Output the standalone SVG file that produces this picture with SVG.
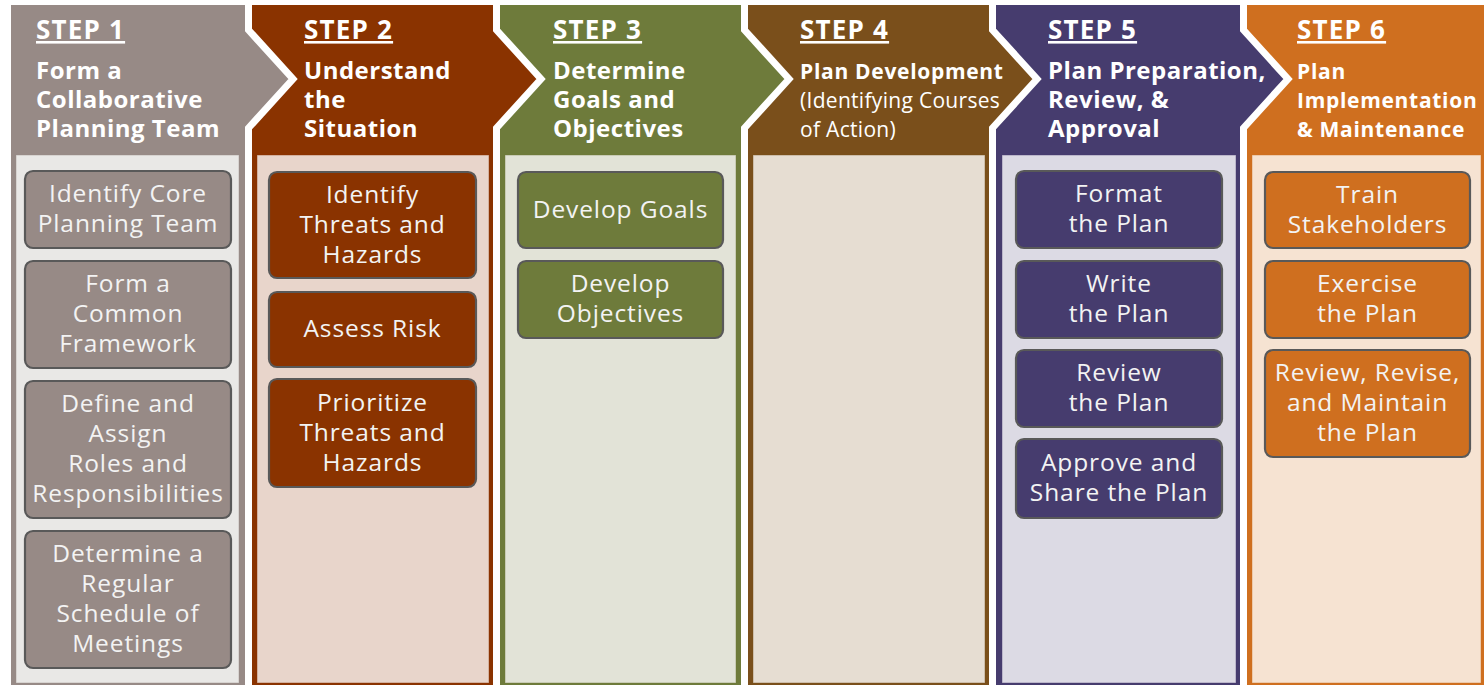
<svg xmlns="http://www.w3.org/2000/svg" width="1484" height="685" viewBox="0 0 1484 685">
<style>
.col{stroke:#ffffff;stroke-width:7;stroke-linejoin:miter}
.panel{stroke-width:1;stroke-opacity:0.45}
.box{stroke:#595959;stroke-width:2.2}
.bt{font-family:"Open Sans","Liberation Sans",sans-serif;font-size:24.5px;fill:#f3f3f3;text-anchor:middle;letter-spacing:0.9px}
.step{font-family:"Open Sans","Liberation Sans",sans-serif;font-size:26px;font-weight:bold;fill:#ffffff;text-decoration:underline;letter-spacing:1.2px}
.ht{font-family:"Open Sans","Liberation Sans",sans-serif;font-size:24px;font-weight:bold;fill:#ffffff;letter-spacing:0.5px}
.hs{font-family:"Open Sans","Liberation Sans",sans-serif;font-size:21px;font-weight:bold;fill:#ffffff;letter-spacing:0.7px}
.hn{font-family:"Open Sans","Liberation Sans",sans-serif;font-size:21px;fill:#ffffff;letter-spacing:0.3px}
</style>
<rect width="1484" height="685" fill="#ffffff"/>

<g id="step6">
<polygon class="col" fill="#cf6f1f" points="1243.5,1.5 1495,1.5 1495,695 1243.5,695"/>
<rect class="panel" x="1252" y="155" width="229" height="528" fill="#f6e3d2" stroke="#cf6f1f"/>
<text class="step" x="1297" y="39">STEP 6</text>
<text class="hs" x="1297" y="79">Plan</text>
<text class="hs" x="1297" y="108">Implementation</text>
<text class="hs" x="1297" y="137">&amp; Maintenance</text>
<g id="s6b1"><rect class="box" x="1265" y="172" width="205" height="76" rx="8" fill="#cf6f1f"/><text class="bt" x="1367.5" y="203">Train</text><text class="bt" x="1367.5" y="233">Stakeholders</text></g>
<g id="s6b2"><rect class="box" x="1265" y="261" width="205" height="77" rx="8" fill="#cf6f1f"/><text class="bt" x="1367.5" y="292">Exercise</text><text class="bt" x="1367.5" y="322">the Plan</text></g>
<g id="s6b3"><rect class="box" x="1265" y="350" width="205" height="107" rx="8" fill="#cf6f1f"/><text class="bt" x="1367.5" y="381">Review, Revise,</text><text class="bt" x="1367.5" y="411">and Maintain</text><text class="bt" x="1367.5" y="441">the Plan</text></g>
</g>

<g id="step5">
<polygon class="col" fill="#463c6e" points="992.5,1.5 1243.5,1.5 1243.5,30 1288,79 1243.5,128 1243.5,695 992.5,695"/>
<rect class="panel" x="1002" y="155" width="234" height="528" fill="#dcdae4" stroke="#463c6e"/>
<text class="step" x="1048" y="39">STEP 5</text>
<text class="ht" x="1048" y="79">Plan Preparation,</text>
<text class="ht" x="1048" y="108">Review, &amp;</text>
<text class="ht" x="1048" y="137">Approval</text>
<g id="s5b1"><rect class="box" x="1016" y="171" width="206" height="77" rx="8" fill="#463c6e"/><text class="bt" x="1119" y="202">Format</text><text class="bt" x="1119" y="232">the Plan</text></g>
<g id="s5b2"><rect class="box" x="1016" y="261" width="206" height="77" rx="8" fill="#463c6e"/><text class="bt" x="1119" y="292">Write</text><text class="bt" x="1119" y="322">the Plan</text></g>
<g id="s5b3"><rect class="box" x="1016" y="350" width="206" height="77" rx="8" fill="#463c6e"/><text class="bt" x="1119" y="381">Review</text><text class="bt" x="1119" y="411">the Plan</text></g>
<g id="s5b4"><rect class="box" x="1016" y="439" width="206" height="79" rx="8" fill="#463c6e"/><text class="bt" x="1119" y="471">Approve and</text><text class="bt" x="1119" y="501">Share the Plan</text></g>
</g>

<g id="step4">
<polygon class="col" fill="#7a4f1b" points="744.5,1.5 992.5,1.5 992.5,30 1037,79 992.5,128 992.5,695 744.5,695"/>
<rect class="panel" x="753" y="155" width="232" height="528" fill="#e6ddd2" stroke="#7a4f1b"/>
<text class="step" x="800" y="39">STEP 4</text>
<text class="hs" x="800" y="79">Plan Development</text>
<text class="hn" x="800" y="108">(Identifying Courses</text>
<text class="hn" x="800" y="137">of Action)</text>
</g>

<g id="step3">
<polygon class="col" fill="#6e7b3b" points="496.5,1.5 744.5,1.5 744.5,30 789,79 744.5,128 744.5,695 496.5,695"/>
<rect class="panel" x="505" y="155" width="231" height="528" fill="#e2e3d7" stroke="#6e7b3b"/>
<text class="step" x="553" y="39">STEP 3</text>
<text class="ht" x="553" y="79">Determine</text>
<text class="ht" x="553" y="108">Goals and</text>
<text class="ht" x="553" y="137">Objectives</text>
<g id="s3b1"><rect class="box" x="518" y="172" width="205" height="76" rx="8" fill="#6e7b3b"/><text class="bt" x="620.5" y="218">Develop Goals</text></g>
<g id="s3b2"><rect class="box" x="518" y="261" width="205" height="77" rx="8" fill="#6e7b3b"/><text class="bt" x="620.5" y="292">Develop</text><text class="bt" x="620.5" y="322">Objectives</text></g>
</g>

<g id="step2">
<polygon class="col" fill="#8a3300" points="248.5,1.5 496.5,1.5 496.5,30 541,79 496.5,128 496.5,695 248.5,695"/>
<rect class="panel" x="257" y="155" width="232" height="528" fill="#e8d5cb" stroke="#8a3300"/>
<text class="step" x="304" y="39">STEP 2</text>
<text class="ht" x="304" y="79">Understand</text>
<text class="ht" x="304" y="108">the</text>
<text class="ht" x="304" y="137">Situation</text>
<g id="s2b1"><rect class="box" x="269" y="172" width="207" height="106" rx="8" fill="#8a3300"/><text class="bt" x="372.5" y="203">Identify</text><text class="bt" x="372.5" y="233">Threats and</text><text class="bt" x="372.5" y="263">Hazards</text></g>
<g id="s2b2"><rect class="box" x="269" y="292" width="207" height="75" rx="8" fill="#8a3300"/><text class="bt" x="372.5" y="337">Assess Risk</text></g>
<g id="s2b3"><rect class="box" x="269" y="379" width="207" height="108" rx="8" fill="#8a3300"/><text class="bt" x="372.5" y="411">Prioritize</text><text class="bt" x="372.5" y="441">Threats and</text><text class="bt" x="372.5" y="471">Hazards</text></g>
</g>

<g id="step1">
<polygon class="col" fill="#978a86" points="7.5,1.5 248.5,1.5 248.5,30 293,79 248.5,128 248.5,695 7.5,695"/>
<rect class="panel" x="16" y="155" width="223" height="528" fill="#e9e8e6" stroke="#978a86"/>
<text class="step" x="36" y="39">STEP 1</text>
<text class="ht" x="36" y="79">Form a</text>
<text class="ht" x="36" y="108">Collaborative</text>
<text class="ht" x="36" y="137">Planning Team</text>
<g id="s1b1"><rect class="box" x="25" y="171" width="206" height="77" rx="8" fill="#978a86"/><text class="bt" x="128" y="202">Identify Core</text><text class="bt" x="128" y="232">Planning Team</text></g>
<g id="s1b2"><rect class="box" x="25" y="261" width="206" height="107" rx="8" fill="#978a86"/><text class="bt" x="128" y="292">Form a</text><text class="bt" x="128" y="322">Common</text><text class="bt" x="128" y="352">Framework</text></g>
<g id="s1b3"><rect class="box" x="25" y="381" width="206" height="137" rx="8" fill="#978a86"/><text class="bt" x="128" y="412">Define and</text><text class="bt" x="128" y="442">Assign</text><text class="bt" x="128" y="472">Roles and</text><text class="bt" x="128" y="502">Responsibilities</text></g>
<g id="s1b4"><rect class="box" x="25" y="531" width="206" height="137" rx="8" fill="#978a86"/><text class="bt" x="128" y="562">Determine a</text><text class="bt" x="128" y="592">Regular</text><text class="bt" x="128" y="622">Schedule of</text><text class="bt" x="128" y="652">Meetings</text></g>
</g>

<g id="connectors"></g>
</svg>
